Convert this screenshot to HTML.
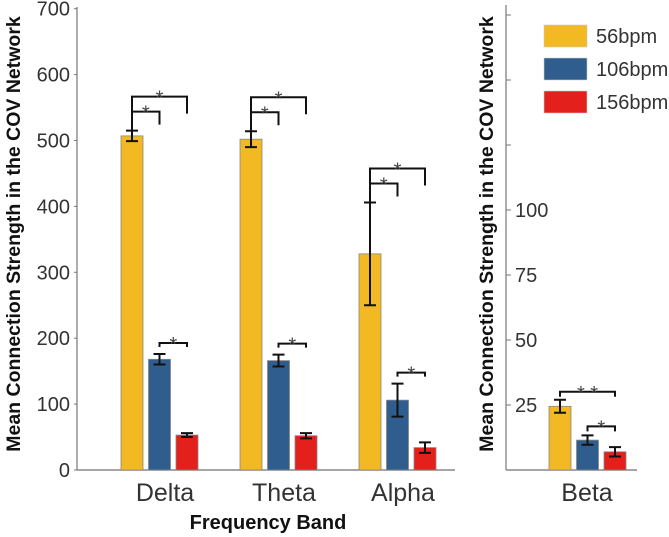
<!DOCTYPE html>
<html><head><meta charset="utf-8"><style>
body{margin:0;background:#fff;}
svg{display:block;font-family:"Liberation Sans",Arial,sans-serif;}
</style></head><body>
<svg id="c" width="669" height="537"></svg>
<script>
const categories=["Delta","Theta","Alpha"];
const s56=[507,502,328];
const s106=[168,166,106];
const s156=[53,52,34];
const e56=[8,12,78];
const e106=[8,9,25];
const e156=[3,4,8];
const leftTicks=[0,100,200,300,400,500,600,700];
const betaCat=["Beta"];
const b56=[24.5];const b106=[11.5];const b156=[7];
const be56=[2.5];const be106=[1.8];const be156=[1.8];
const rightTicks=[25,50,75,100];
const rightBlankTicks=[125,150,175];
const seriesNames=["56bpm","106bpm","156bpm"];
const colors=["#f2b922","#2f5e8e","#e3201b"];

const svg=document.getElementById('c');const NS="http://www.w3.org/2000/svg";
function el(t,a,txt){const e=document.createElementNS(NS,t);for(const k in a)e.setAttribute(k,a[k]);if(txt!==undefined)e.textContent=txt;svg.appendChild(e);return e;}
const base=470;
const yL=v=>base-v*0.659;
const yR=v=>base-v*2.6;
const groupX=[121,240,359];
const barW=22,gap=5.5;
let a=el('line',{x1:77,y1:7,x2:77,y2:base,stroke:'#777','stroke-width':1.2});

a=el('line',{x1:77,y1:base,x2:455,y2:base,stroke:'#888','stroke-width':1.5});

leftTicks.forEach(v=>{const y=yL(v);
 el('line',{x1:74,y1:y,x2:77,y2:y,stroke:'#777'});
 const t=el('text',{x:70,y:y+7,'text-anchor':'end','font-size':20,fill:'#333'},v);
 });
function bars(vals,errs,xs,yf,ci,name){
 vals.forEach((v,i)=>{const x=xs[i]+ci*(barW+gap);const y=yf(v);
  const r=el('rect',{x:x,y:y,width:barW,height:base-y,fill:colors[ci],stroke:'#888','stroke-width':0.8});
  
  const cx=x+barW/2,y1=yf(v+errs[i]),y2=yf(v-errs[i]);
  const g=el('path',{d:`M${cx},${y1}V${y2}M${cx-6},${y1}H${cx+6}M${cx-6},${y2}H${cx+6}`,stroke:'#111','stroke-width':2,fill:'none'});
  });}
[s56,s106,s156].forEach((s,ci)=>bars(s,[e56,e106,e156][ci],groupX,yL,ci,'group'));
categories.forEach((c,i)=>{const t=el('text',{x:groupX[i]+44,y:501,'text-anchor':'middle','font-size':25,fill:'#333'},c);
 });
function bracket(x1,x2,y,d1,d2,label){
 const p=el('path',{d:`M${x1},${y+d1}V${y}H${x2}V${y+d2}`,stroke:'#111','stroke-width':2,fill:'none'});
 
 const t=el('text',{x:(x1+x2)/2,y:y+8,'text-anchor':'middle','font-size':20,fill:'#444'},label);
 }
groupX.forEach((gx,i)=>{
 const cy=yL(s56[i]+e56[i]);const c1=gx+11,c2=gx+38.5,c3=gx+66;
 bracket(c1,c3,cy-34,34,17,'*');
 bracket(c1,c2,cy-19,19,13,'*');
 const by=yL(s106[i]+e106[i])-11;
 bracket(c2,c3,by,4,4,'*');});
a=el('line',{x1:506,y1:5,x2:506,y2:base,stroke:'#777','stroke-width':1.2});

a=el('line',{x1:506,y1:base,x2:637,y2:base,stroke:'#888','stroke-width':1.5});

rightTicks.forEach(v=>{const y=yR(v);el('line',{x1:506,y1:y,x2:511,y2:y,stroke:'#777'});
 const t=el('text',{x:515,y:y+7,'font-size':20,fill:'#333'},v);
 });
rightBlankTicks.forEach(v=>{const y=yR(v);el('line',{x1:506,y1:y,x2:511,y2:y,stroke:'#777'});});
const bx=[549];
[b56,b106,b156].forEach((s,ci)=>bars(s,[be56,be106,be156][ci],bx,yR,ci,'beta'));
let t=el('text',{x:587,y:501,'text-anchor':'middle','font-size':25,fill:'#333'},'Beta');

{const c1=bx[0]+11,c2=bx[0]+38.5,c3=bx[0]+66;
 bracket(c1,c3,yR(b56[0]+be56[0])-8,5,5,'* *');
 bracket(c2,c3,yR(b106[0]+be106[0])-9,5,5,'*');}
t=el('text',{transform:'translate(20,234) rotate(-90)','text-anchor':'middle','font-size':19.5,'font-weight':'bold',fill:'#111'},'Mean Connection Strength in the COV Network');

t=el('text',{transform:'translate(493,234) rotate(-90)','text-anchor':'middle','font-size':19.5,'font-weight':'bold',fill:'#111'},'Mean Connection Strength in the COV Network');

t=el('text',{x:268,y:529,'text-anchor':'middle','font-size':20,'font-weight':'bold',fill:'#111'},'Frequency Band');

seriesNames.forEach((n,i)=>{const y=25+i*33;
 const r=el('rect',{x:544,y:y,width:43,height:22,fill:colors[i],stroke:'#ccc','stroke-width':0.6});
 
 const tt=el('text',{x:596,y:y+18,'font-size':20,fill:'#333'},n);
 });
</script>
</body></html>
